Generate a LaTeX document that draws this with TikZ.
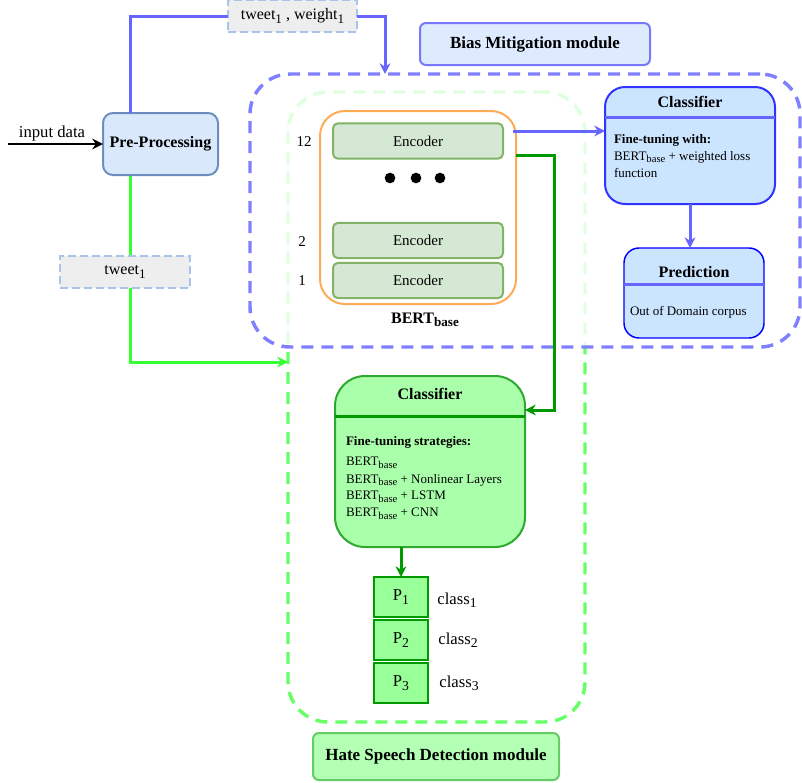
\documentclass[tikz,border=0pt]{standalone}
\usepackage{fontspec}
\setmainfont{Liberation Serif}
\usetikzlibrary{arrows.meta,calc}
\pgfdeclarelayer{back}
\pgfdeclarelayer{mid}
\pgfsetlayers{back,mid,main}
\newcommand\lsb[1]{\raisebox{-0.45ex}{\scalebox{0.82}{#1}}}
\definecolor{bmblue}{HTML}{8080FF}
\definecolor{hsgreen}{HTML}{66FF66}
\definecolor{lineblue}{HTML}{6666FF}
\definecolor{linegreen}{HTML}{33FF33}
\definecolor{darkgreen}{HTML}{009900}
\definecolor{tagblue}{HTML}{A9C4EB}
\definecolor{tagfill}{HTML}{EEEEEE}
\definecolor{prefill}{HTML}{DAE8FC}
\definecolor{prestroke}{HTML}{6C8EBF}
\definecolor{biasfill}{HTML}{DEEBFF}
\definecolor{biasstroke}{HTML}{7777FF}
\definecolor{bcfill}{HTML}{CCE5FF}
\definecolor{bcstroke}{HTML}{3333FF}
\definecolor{predstroke}{HTML}{0000FF}
\definecolor{encfill}{HTML}{D5E8D4}
\definecolor{encstroke}{HTML}{82B366}
\definecolor{bertstroke}{HTML}{FFAA55}
\definecolor{gcfill}{HTML}{AAFFAA}
\definecolor{gcstroke}{HTML}{2EA82E}
\definecolor{pfill}{HTML}{99FF99}
\definecolor{hsdfill}{HTML}{B3FFB3}
\definecolor{hsdstroke}{HTML}{66CC66}
\begin{document}
\begin{tikzpicture}[x=0.75pt,y=-0.75pt,
  every node/.style={inner sep=0pt,outer sep=0pt},
  fa/.style={font=\fontsize{9.75}{11.7}\selectfont},
  fb/.style={font=\fontsize{11.25}{13.5}\selectfont},
  fc/.style={font=\fontsize{12}{14.4}\selectfont},
  fd/.style={font=\fontsize{12.5}{15}\selectfont},
  fe/.style={font=\bfseries\fontsize{12}{14.4}\selectfont},
  ff/.style={font=\bfseries\fontsize{12.75}{15}\selectfont},
  region/.style={rectangle,rounded corners=30pt,line width=2.6pt,dash pattern=on 9pt off 6pt},
  tagbox/.style={rectangle,draw=tagblue,fill=tagfill,line width=1.8pt,dash pattern=on 6pt off 3pt},
  encbox/.style={rectangle,rounded corners=3.75pt,draw=encstroke,fill=encfill,line width=1.5pt,minimum width=127.5pt,minimum height=26.5pt,fb},
  pbox/.style={rectangle,draw=darkgreen,fill=pfill,line width=1.1pt,minimum width=40.5pt,minimum height=30pt,fd},
  arr/.style={-{Stealth[length=8pt,width=8pt]}},
]
\useasboundingbox (0,0) rectangle (802,782);
% regions
\begin{pgfonlayer}{back}
\node[region,draw=hsgreen,minimum width=222.75pt,minimum height=472.5pt] (hs) at (436.5,407) {};
\node[region,draw=bmblue,fill=white,fill opacity=0.8,minimum width=412.5pt,minimum height=204.75pt] (bm) at (525,210.5) {};
\end{pgfonlayer}
% boxes
\node[tagbox,minimum width=96.75pt,minimum height=24pt,fc] (tw) at (292.5,16) {tweet\lsb{1} , weight\lsb{1}};
\node[rectangle,rounded corners=4.5pt,draw=biasstroke,fill=biasfill,line width=1.5pt,minimum width=172.5pt,minimum height=31.5pt,ff] (bias) at (535,44) {Bias Mitigation module};
\node[rectangle,rounded corners=7.5pt,draw=prestroke,fill=prefill,line width=1.5pt,minimum width=86.25pt,minimum height=46.5pt,fe] (pre) at (160.5,144) {Pre-Processing};
\node[fd] (inlabel) at (52,133) {input data};
\coordinate (inp) at (8,144);
\node[tagbox,minimum width=97.5pt,minimum height=24pt,fc] (tw2) at (125,272) {tweet\lsb{1}};
\node[rectangle,rounded corners=18.75pt,draw=bertstroke,fill=white,line width=1.5pt,minimum width=147pt,minimum height=144.75pt] (bert) at (418,207.5) {};
\node[encbox] (enc12) at (418,141) {Encoder};
\node[encbox] (enc2) at (418,240.5) {Encoder};
\node[encbox] (enc1) at (418,280.5) {Encoder};
\fill (390,178) circle (4pt) (416,178) circle (4pt) (440,178) circle (4pt);
\node[fb] (n12) at (304,142) {12};
\node[fb] (n2) at (302,242) {2};
\node[fb] (n1) at (302,281) {1};
\node[fe] (bl) at (425,320) {BERT\lsb{base}};
% blue classifier
\node[rectangle,rounded corners=15pt,draw=bcstroke,fill=bcfill,line width=1.5pt,minimum width=127.5pt,minimum height=87.75pt] (bc) at (690,145.5) {};
\draw[lineblue,line width=2.25pt] (bc.west |- 0,117) -- (bc.east |- 0,117);
\node[fe] (bct) at (690,102) {Classifier};
\node[anchor=west,font=\bfseries\fontsize{9.75}{11.7}\selectfont] (b0) at (614,140) {Fine-tuning with:};
\node[fa,anchor=west] (b1) at (614,157) {BERT\lsb{base} + weighted loss};
\node[fa,anchor=west] (b2) at (614,173) {function};
% prediction
\node[rectangle,rounded corners=11.25pt,draw=predstroke,fill=bcfill,line width=1.1pt,minimum width=105pt,minimum height=67.5pt] (pred) at (694,293) {};
\draw[lineblue,line width=2.25pt] (pred.west |- 0,284) -- (pred.east |- 0,284);
\node[fe] (pdt) at (694,272) {Prediction};
\node[fa,anchor=west] (pt) at (630,312) {Out of Domain corpus};
% green classifier
\node[rectangle,rounded corners=22.5pt,draw=gcstroke,fill=gcfill,line width=1.5pt,minimum width=142.5pt,minimum height=128.25pt] (gc) at (430,461.5) {};
\draw[darkgreen,line width=2.25pt] (gc.west |- 0,416) -- (gc.east |- 0,416);
\node[fe] (gct) at (430,394) {Classifier};
\node[anchor=west,font=\bfseries\fontsize{9.75}{11.7}\selectfont] (g0) at (346,442) {Fine-tuning strategies:};
\node[fa,anchor=west] (g1) at (346,463) {BERT\lsb{base}};
\node[fa,anchor=west] (g2) at (346,480) {BERT\lsb{base} + Nonlinear Layers};
\node[fa,anchor=west] (g3) at (346,497) {BERT\lsb{base} + LSTM};
\node[fa,anchor=west] (g4) at (346,514) {BERT\lsb{base} + CNN};
% P boxes
\node[pbox] (p1) at (401,597) {P\lsb{1}};
\node[pbox] (p2) at (401,640) {P\lsb{2}};
\node[pbox] (p3) at (401,683) {P\lsb{3}};
\node[fd] (c1) at (457,600) {class\lsb{1}};
\node[fd] (c2) at (458,640) {class\lsb{2}};
\node[fd] (c3) at (459,683) {class\lsb{3}};
\node[rectangle,rounded corners=4.5pt,draw=hsdstroke,fill=hsdfill,line width=1.5pt,minimum width=184.5pt,minimum height=35.25pt,ff] (hsd) at (436,756.5) {Hate Speech Detection module};
% connectors
\draw[arr,black,line width=1.5pt] (inp) -- (pre.west);
\coordinate (preup) at ($(pre.north)+(-30.5,0)$);
\coordinate (predown) at ($(pre.south)+(-30.5,0)$);
\coordinate (bmin) at ($(bm.north west)+(135,0)$);
\coordinate (hsin) at ($(hs.north west)+(0,270)$);
\draw[lineblue,line width=2.25pt] (preup) |- (tw.west);
\draw[arr,lineblue,line width=2.25pt] (tw.east) -| (bmin);
\begin{pgfonlayer}{mid}
\draw[arr,linegreen,line width=2.25pt] (predown) |- (hsin);
\end{pgfonlayer}
\coordinate (s1) at ($(enc12.east)+(10,-10)$);
\draw[arr,lineblue,line width=2.25pt] (s1) -- (s1 -| bc.west);
\coordinate (s2) at ($(enc12.east)+(13,14)$);
\coordinate (gcin) at ($(gc.north east)+(0,34)$);
\draw[arr,darkgreen,line width=2.25pt] (s2) -| ($(gcin)+(29,0)$) -- (gcin);
\draw[arr,lineblue,line width=2.25pt] (bc.south) -- (bc.south |- pred.north);
\draw[arr,darkgreen,line width=2.25pt] (p1.north |- gc.south) -- (p1.north);
\end{tikzpicture}
\end{document}
